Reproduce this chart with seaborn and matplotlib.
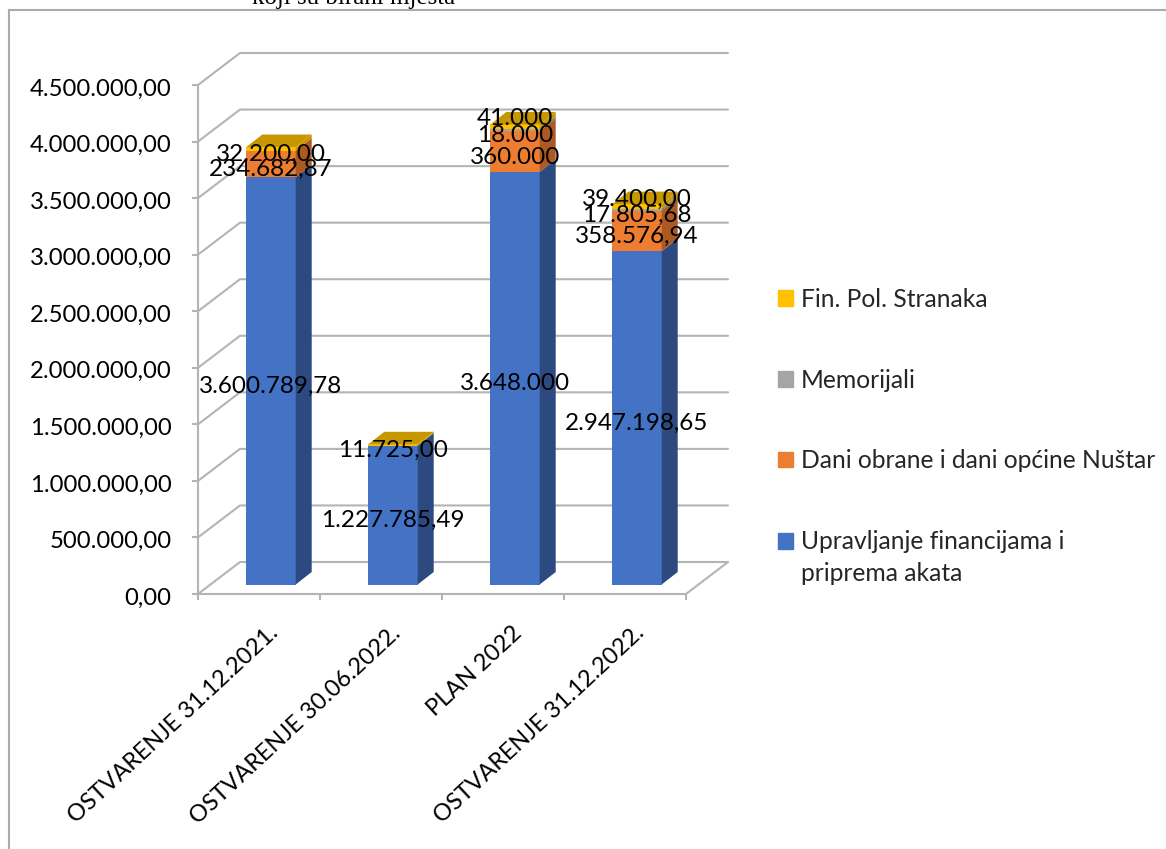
import matplotlib
matplotlib.use("Agg")
import matplotlib.pyplot as plt
from matplotlib.legend_handler import HandlerPatch
from matplotlib.patches import Rectangle
from matplotlib.transforms import Affine2D
import pandas as pd
import seaborn as sns

categories = ["OSTVARENJE 31.12.2021.", "OSTVARENJE 30.06.2022.", "PLAN 2022", "OSTVARENJE 31.12.2022."]
upravljanje = [3600789.78, 1227785.49, 3648000, 2947198.65]
dani_obrane = [234682.87, 0, 360000, 358576.94]
memorijali = [0, 0, 18000, 17805.68]
fin_pol = [32200, 11725, 41000, 39400]
upravljanje_labels = ["3.600.789,78", "1.227.785,49", "3.648.000", "2.947.198,65"]
dani_obrane_labels = ["234.682,87", "", "360.000", "358.576,94"]
memorijali_labels = ["", "", "18.000", "17.805,68"]
fin_pol_labels = ["32.200,00", "11.725,00", "41.000", "39.400,00"]
y_ticks = [0, 500000, 1000000, 1500000, 2000000, 2500000, 3000000, 3500000, 4000000, 4500000]
y_tick_labels = ["0,00", "500.000,00", "1.000.000,00", "1.500.000,00", "2.000.000,00",
                 "2.500.000,00", "3.000.000,00", "3.500.000,00", "4.000.000,00", "4.500.000,00"]
series_names = ["Upravljanje financijama i\npriprema akata", "Dani obrane i dani općine Nuštar",
                "Memorijali", "Fin. Pol. Stranaka"]
title_fragment = "koji su birani mjesta"

W, H = 1166, 849
FONT = "Lato"
FS = 17.2
GRID = "#B4B4B4"
colors = ["#4472C4", "#ED7D31", "#A5A5A5", "#FFC000"]
side_colors = ["#2C4A80", "#AD5A22", "#787878", "#C69700"]

sns.set_theme(style="white")
plt.rcParams["font.family"] = [FONT, "DejaVu Sans"]

fig = plt.figure(figsize=(W / 100, H / 100), dpi=100)
L, R, B, T = 198, 686, 594, 85
ax = fig.add_axes([L / W, 1 - B / H, (R - L) / W, (B - T) / H])
ax.patch.set_alpha(0)

# frame of the embedded chart
fig.add_artist(Rectangle((8.5 / W, -0.1), 1.2, 1.1 - 10 / H, transform=fig.transFigure,
                         fill=False, ec="#ABABAB", lw=1.5))
fig.text(354 / W, 1 - 4 / H, title_fragment, family="Liberation Serif", fontsize=18,
         ha="center", va="baseline", color="black")

x_lim = (-0.5, 3.5)
y_lim = (0, 4500000)
px_x = (R - L) / (x_lim[1] - x_lim[0])
px_y = (B - T) / (y_lim[1] - y_lim[0])
wall_dx, wall_dy = 42 / px_x, 32 / px_y
bar_dx, bar_dy = 16 / px_x, 12.5 / px_y
BAR_W = 0.405

# Stacked bars through seaborn
bottoms = [0.0] * 4
stacks = []
for values, c in zip([upravljanje, dani_obrane, memorijali, fin_pol], colors):
    df = pd.DataFrame({"cat": categories, "val": values})
    sns.barplot(data=df, x="cat", y="val", order=categories, color=c, saturation=1,
                width=BAR_W, bottom=bottoms, ax=ax, zorder=3, linewidth=0, errorbar=None)
    stacks.append(list(bottoms))
    bottoms = [b + v for b, v in zip(bottoms, values)]

ax.set_xlim(*x_lim)
ax.set_ylim(*y_lim)

bar_trans = ax.transData + Affine2D().translate(12, 9.5)
for p in ax.patches:
    p.set_transform(bar_trans)
    p.set_clip_on(False)

# depth faces of the bars
for values, base, sc in zip([upravljanje, dani_obrane, memorijali, fin_pol], stacks, side_colors):
    for i, (v, b0) in enumerate(zip(values, base)):
        if v == 0:
            continue
        xr = i + BAR_W / 2
        ax.fill([xr, xr + bar_dx, xr + bar_dx, xr],
                [b0, b0 + bar_dy, b0 + v + bar_dy, b0 + v],
                color=sc, lw=0, transform=bar_trans, clip_on=False, zorder=3)
for i, top in enumerate(bottoms):
    xl, xr = i - BAR_W / 2, i + BAR_W / 2
    ax.fill([xl, xr, xr + bar_dx, xl + bar_dx], [top, top, top + bar_dy, top + bar_dy],
            color=side_colors[3], lw=0, transform=bar_trans, clip_on=False, zorder=3)

# back wall, floor and axes
for t in y_ticks:
    ax.plot([x_lim[0], x_lim[0] + wall_dx, x_lim[1] + wall_dx],
            [t, t + wall_dy, t + wall_dy], color=GRID, lw=1.5, clip_on=False, zorder=1)
ax.plot([x_lim[1], x_lim[1] + wall_dx], [0, wall_dy], color=GRID, lw=1.5, clip_on=False, zorder=1)

sns.despine(ax=ax, top=True, right=True)
for s in ["left", "bottom"]:
    ax.spines[s].set_color(GRID)
    ax.spines[s].set_linewidth(1.5)
ax.set_xlabel("")
ax.set_ylabel("")
ax.set_yticks(y_ticks, y_tick_labels, fontsize=FS, color="black")
ax.set_xticks([-0.5, 0.5, 1.5, 2.5, 3.5], [""] * 5)
ax.tick_params(axis="both", length=4, width=1.5, color=GRID, left=True, bottom=True, pad=15)
for lab in ax.get_yticklabels():
    lab.set_transform(lab.get_transform() + Affine2D().translate(0, -2))

# rotated category labels
for i, name in enumerate(categories):
    ax.annotate(name, (i, 0), xycoords="data", xytext=(16, -36), textcoords="offset pixels",
                rotation=43, rotation_mode="anchor", ha="right", va="center",
                fontsize=16.9, color="black", annotation_clip=False)

# data labels
nudge = {(3, 2): 14, (3, 3): 12}
for s, (values, texts, base) in enumerate(zip([upravljanje, dani_obrane, memorijali, fin_pol],
                                              [upravljanje_labels, dani_obrane_labels,
                                               memorijali_labels, fin_pol_labels], stacks)):
    for i, (v, txt, b0) in enumerate(zip(values, texts, base)):
        if not txt:
            continue
        ax.annotate(txt, (i, b0 + v / 2), xycoords=bar_trans,
                    xytext=(0, -5.5 + nudge.get((s, i), 0)), textcoords="offset pixels",
                    ha="center", va="center", fontsize=FS + 0.3, color="black", zorder=5,
                    annotation_clip=False)


# legend
def first_line_patch(legend, orig_handle, xdescent, ydescent, width, height, fontsize):
    return Rectangle((-xdescent, -ydescent + 12), width, height)


handles = [Rectangle((0, 0), 1, 1, color=c) for c in colors][::-1]
leg = fig.legend(handles, series_names[::-1], loc="upper left",
                 bbox_to_anchor=(778 / W, 1 - 288 / H),
                 frameon=False, fontsize=17.7, handlelength=0.61, handleheight=0.61,
                 handletextpad=0.33, labelspacing=2.34, borderpad=0, borderaxespad=0,
                 handler_map={handles[3]: HandlerPatch(patch_func=first_line_patch)})
leg.get_texts()[3].set_linespacing(1.47)

fig.savefig("out.png", dpi=100)
